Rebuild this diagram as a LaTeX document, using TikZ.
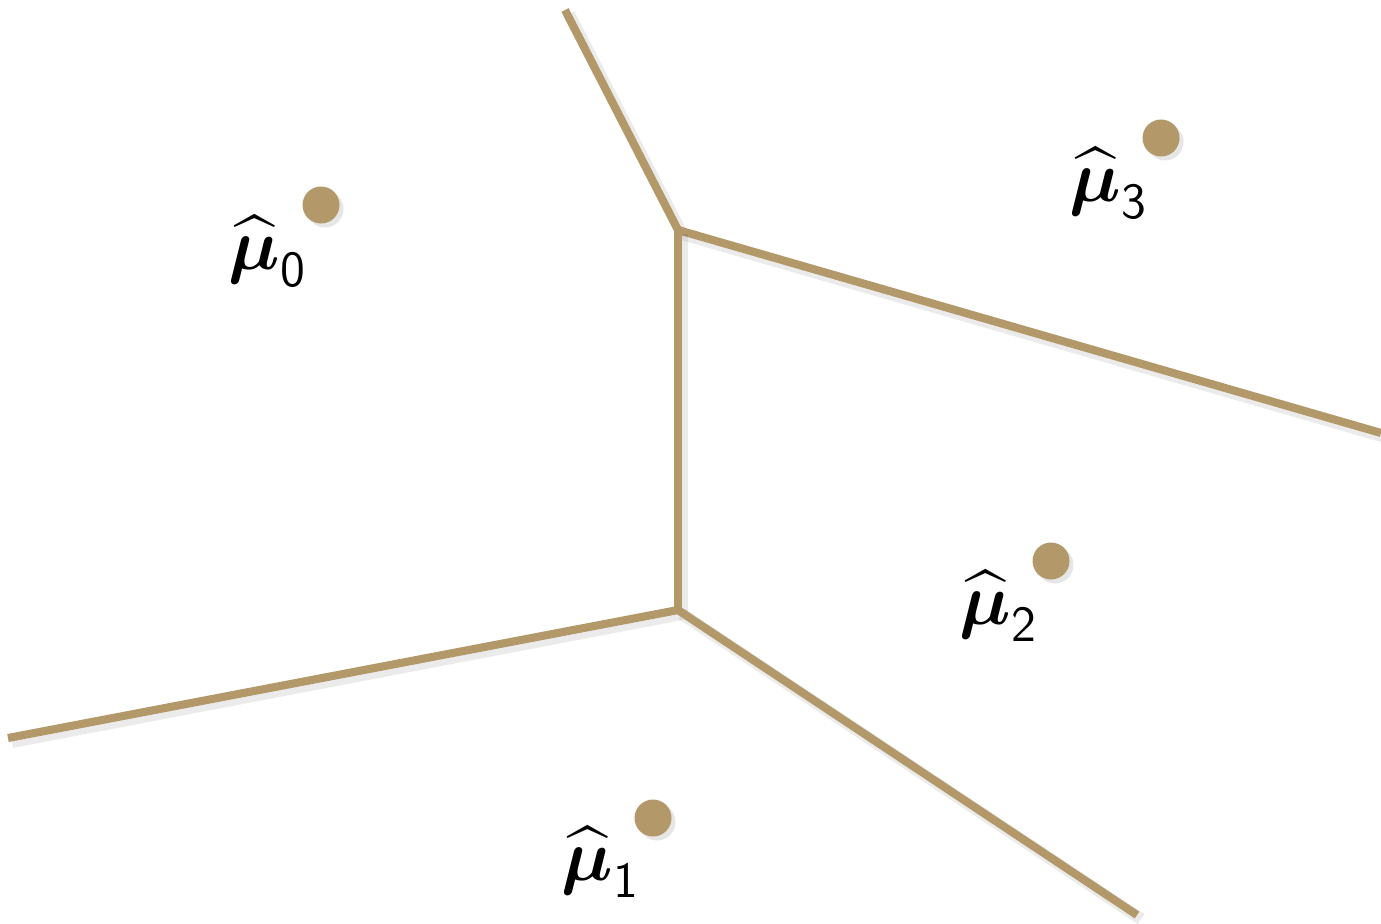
\documentclass[tikz,border=0pt]{standalone}
\usepackage{amsmath,amssymb}
\usetikzlibrary{shadows}
\definecolor{gold}{RGB}{179,152,106}

\begin{document}
\begin{tikzpicture}[font=\huge,
    edge/.style={gold,line width=2.3pt,
      preaction={draw=black,opacity=0.08,line width=3.4pt,transform canvas={shift={(0.04,-0.04)}}}},
    centre/.style={circle,fill=gold,inner sep=0pt,minimum size=0.37cm,
      drop shadow={shadow xshift=0.04cm,shadow yshift=-0.04cm,opacity=0.2}},
    lab/.style={inner sep=0pt}]
    \useasboundingbox (0,0) rectangle (13.81,9.23);
    % Voronoi vertices and open ends
    \coordinate (vt) at (6.78,6.93);
    \coordinate (vb) at (6.78,3.13);
    \coordinate (et) at (5.65,9.13);
    \coordinate (er) at (13.81,4.90);
    \coordinate (el) at (0.08,1.85);
    \coordinate (eb) at (11.37,0.08);
    % Cell borders
    \draw[edge] (et) -- (vt);
    \draw[edge] (vt) -- (er);
    \draw[edge] (vt) -- (vb);
    \draw[edge] (el) -- (vb);
    \draw[edge] (vb) -- (eb);
    % Centres
    \node[centre] (m0) at (3.21,7.18) {};
    \node[centre] (m1) at (6.53,1.05) {};
    \node[centre] (m2) at (10.51,3.62) {};
    \node[centre] (m3) at (11.61,7.85) {};
    % Labels
    \node[lab] (l0) at (2.68,6.72) {$\widehat{\boldsymbol{\mu}}_{\mathsf{0}}$};
    \node[lab] (l1) at (6.01,0.61) {$\widehat{\boldsymbol{\mu}}_{\mathsf{1}}$};
    \node[lab] (l2) at (9.99,3.17) {$\widehat{\boldsymbol{\mu}}_{\mathsf{2}}$};
    \node[lab] (l3) at (11.09,7.40) {$\widehat{\boldsymbol{\mu}}_{\mathsf{3}}$};
  \end{tikzpicture}
\end{document}
